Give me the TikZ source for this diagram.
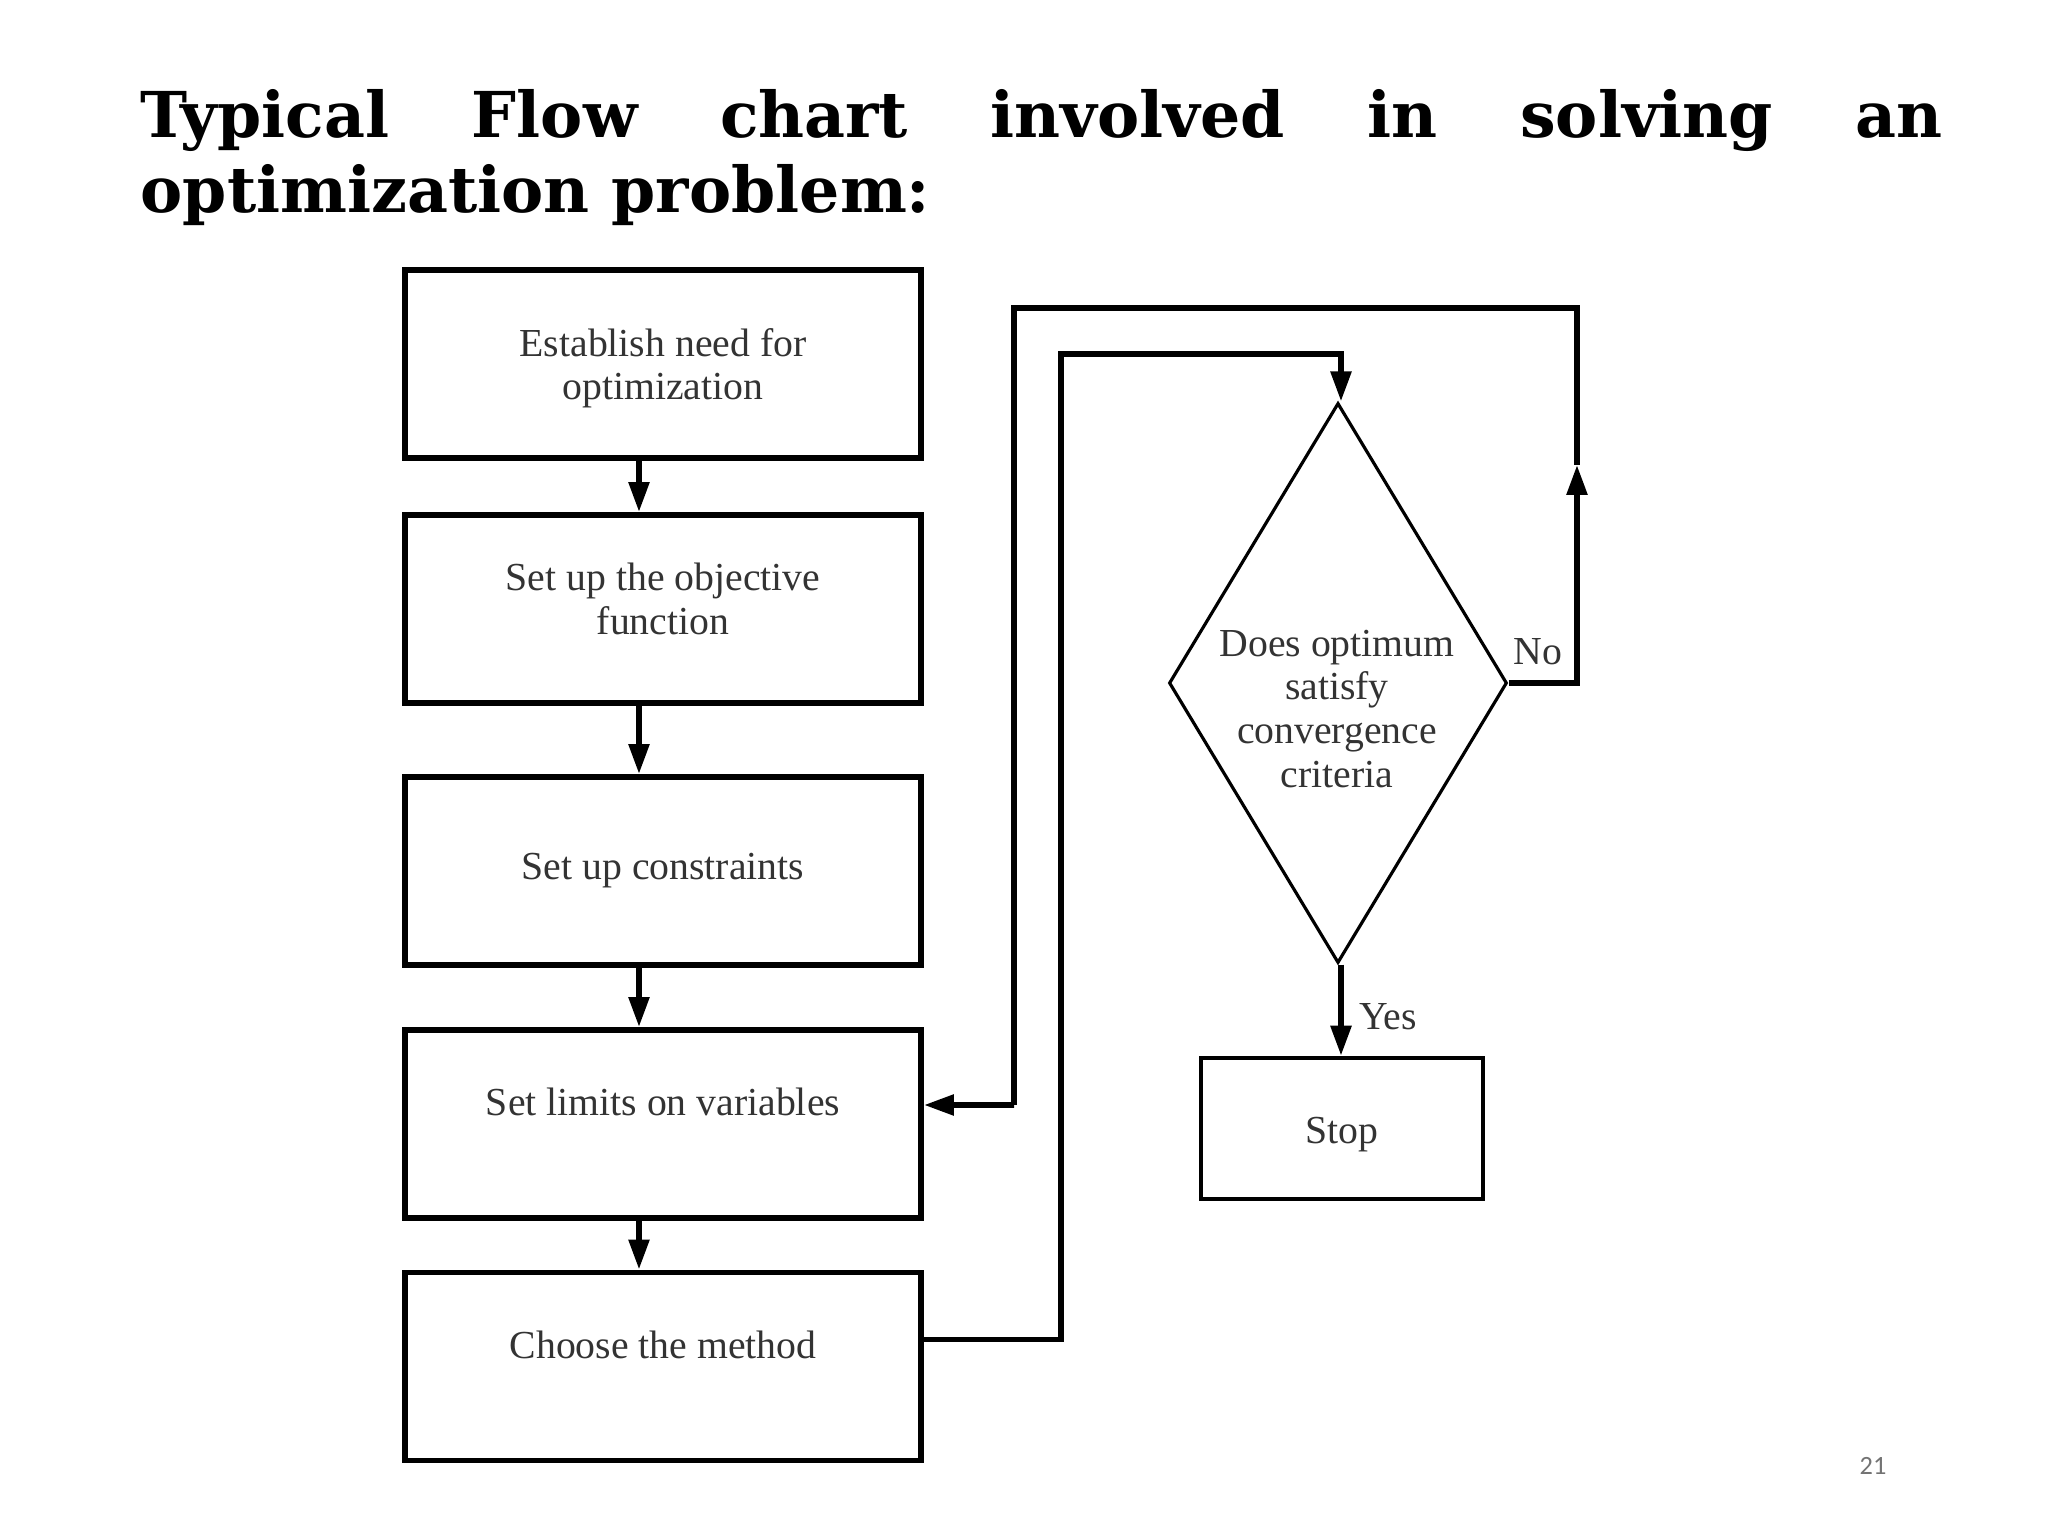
\documentclass[tikz,border=0pt]{standalone}
\usepackage{xcolor}
\usepackage{fontspec}
\setmainfont{Liberation Serif}
\newfontfamily\headfont{DejaVu Serif}
\newfontfamily\numfont{Carlito}
\usepackage{tikz}
\usetikzlibrary{positioning,shapes.geometric,arrows.meta}

\begin{document}
\begin{tikzpicture}[
    box/.style={rectangle,draw,line width=1.7pt,minimum width=5.16cm,minimum height=1.88cm,inner sep=0pt,align=center,text=black!80,font=\fontsize{11.3}{12.5}\selectfont},
    stopbox/.style={box,line width=1.3pt,minimum width=2.82cm,minimum height=1.41cm},
    decision/.style={diamond,draw,line width=0.9pt,minimum width=3.38cm,minimum height=5.6cm,inner sep=0pt},
    txt/.style={align=center,text=black!80,inner sep=0pt,font=\fontsize{11.3}{12.5}\selectfont},
    flow/.style={line width=1.6pt,-{Triangle[length=0.3cm,width=0.2cm]}},
    link/.style={line width=1.6pt}
]
    \useasboundingbox (0,0) rectangle (20.48,-15.36);

    % heading
    \node [anchor=base west,inner sep=0pt] (head1) at (1.40,-1.38) {\headfont\bfseries\fontsize{18}{22}\selectfont\makebox[18.02cm][l]{Typical\hfill Flow\hfill chart\hfill involved\hfill in\hfill solving\hfill an}};
    \node [anchor=base west,inner sep=0pt] (head2) at (1.40,-2.13) {\headfont\bfseries\fontsize{18}{22}\selectfont optimization problem:};

    % left column
    \node [box,text depth=0cm] (need) at (6.63,-3.64) {Establish need for\\optimization};
    \node [box,text depth=0.2cm] (objective) at (6.63,-6.09) {Set up the objective\\function};
    \node [box] (constraints) at (6.63,-8.71) {Set up constraints};
    \node [box] (limits) at (6.63,-11.24) {Set limits on variables\\\mbox{}};
    \node [box] (method) at (6.63,-13.665) {Choose the method\\\mbox{}};

    % right column
    \node [decision] (check) at (13.38,-6.83) {};
    \node [txt] (checktext) at (13.37,-7.09) {Does optimum\\satisfy\\convergence\\criteria};
    \node [stopbox,text height=0.38cm] (stop) at (13.42,-11.285) {Stop};

    \coordinate (innertop) at (10.61,-3.54);
    \coordinate (noup) at (15.77,-4.65);
    \coordinate (outertop) at (15.77,-3.08);
    \coordinate (outerdown) at (10.14,-11.05);

    \draw [flow] ([xshift=-0.24cm]need.south) -- ([xshift=-0.24cm]objective.north);
    \draw [flow] ([xshift=-0.24cm]objective.south) -- ([xshift=-0.24cm]constraints.north);
    \draw [flow] ([xshift=-0.24cm]constraints.south) -- ([xshift=-0.24cm]limits.north);
    \draw [flow] ([xshift=-0.24cm]limits.south) -- ([xshift=-0.24cm]method.north);

    \draw [flow] ([yshift=0.27cm]method.east) -| (innertop) -| ([xshift=0.03cm]check.north);
    \draw [flow] (check.east) -| (noup);
    \draw [link] (noup) -- (outertop) -| (outerdown);
    \draw [flow] (outerdown) -- ([yshift=0.19cm]limits.east);
    \draw [flow] ([xshift=0.03cm]check.south) -- ([xshift=0.03cm]check.south |- stop.north);

    \node [txt] (no) at (15.38,-6.52) {No};
    \node [txt] (yes) at (13.88,-10.17) {Yes};

    \node [text=black!55,inner sep=0pt] (page) at (18.73,-14.66) {\numfont\fontsize{7.5}{9}\selectfont 21};
\end{tikzpicture}
\end{document}
